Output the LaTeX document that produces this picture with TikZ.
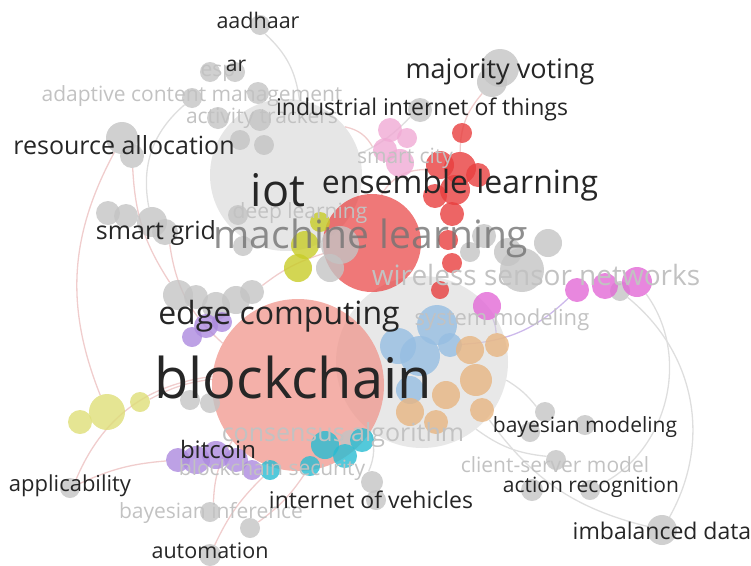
\documentclass[tikz,border=0pt]{standalone}
\usepackage{fontspec}
\setmainfont{Open Sans}
\usetikzlibrary{backgrounds}

\definecolor{gball}{RGB}{196,196,196}
\definecolor{gbig}{RGB}{214,214,214}
\definecolor{salmon}{RGB}{240,150,140}
\definecolor{redb}{RGB}{232,62,62}
\definecolor{pinkb}{RGB}{240,170,212}
\definecolor{magb}{RGB}{226,105,214}
\definecolor{yelb}{RGB}{200,204,40}
\definecolor{yell}{RGB}{222,222,120}
\definecolor{cyanb}{RGB}{40,188,210}
\definecolor{purb}{RGB}{172,138,222}
\definecolor{blueb}{RGB}{150,190,226}
\definecolor{tanb}{RGB}{232,182,130}
\definecolor{linkp}{RGB}{240,205,205}
\definecolor{linkg}{RGB}{222,222,222}

\newcommand{\fs}[1]{\fontsize{#1}{#1}\selectfont}

\tikzset{
  bub/.style={circle, inner sep=0pt, fill=#1, fill opacity=0.8, draw=none},
  lab/.style={text=black!85, inner sep=0pt},
  faint/.style={text=black!24, inner sep=0pt},
  link/.style={draw=linkp, line width=1.3pt},
  glink/.style={draw=linkg, line width=1.3pt}
}

\begin{document}
\begin{tikzpicture}[x=1pt, y=-1pt]
  \useasboundingbox (0,0) rectangle (751,565);

  % large circles
  \node[bub=gbig, minimum size=152, fill opacity=0.6] (iot) at (286,175) {};
  \node[bub=gbig, minimum size=172, fill opacity=0.55] (grey) at (422,362) {};
  \node[bub=salmon, minimum size=172, fill opacity=0.75] (chain) at (298,385) {};
  \node[bub=redb, minimum size=98, fill opacity=0.7] (ml) at (372,243) {};

  % grey balls
  \foreach \x/\y/\r/\n in {
      260/25/10/aad, 235/72/10/ar, 210/72/10/esp, 192/98/10/acm, 258/93/11/g1,
      218/118/11/g2, 260/120/11/act, 240/140/10/g3, 264/145/10/g4,
      122/138/16/res, 132/156/12/res2, 500/68/19/maj, 492/82/15/maj2,
      420/110/12/ind, 108/213/12/sg1, 126/216/12/sg2, 152/222/15/sg,
      165/232/13/sg3, 238/215/10/sg4, 243/246/10/sg5,
      178/295/15/ec1, 196/297/12/ec2, 216/306/14/ec3, 236/300/14/ec4,
      252/292/12/ec5, 340/245/19/g5, 330/268/14/g6, 484/236/12/g7,
      470/252/10/g8, 508/252/14/g9, 522/270/22/wsn, 548/243/14/g10,
      620/291/10/g11, 190/400/10/g12, 210/403/10/g13, 372/482/11/iov,
      376/500/10/iov2, 350/440/10/g14, 545/412/10/bm, 530/432/10/bm2,
      585/425/10/bm3, 556/460/10/cs, 532/490/11/ar2, 590/490/10/arc,
      662/530/15/imb, 70/488/10/app, 210/512/10/bi, 250/528/10/bi2,
      210/555/11/aut}
    \node[bub=gball, minimum size=2*\r] (\n) at (\x,\y) {};

  % coloured clusters
  \foreach \x/\y/\r/\c/\n in {
      390/130/12/pinkb/p1, 385/150/12/pinkb/p2, 400/163/14/pinkb/p3, 407/138/10/pinkb/p4,
      462/133/10/redb/r1, 440/165/14/redb/r2, 460/168/16/redb/r3, 478/175/12/redb/el,
      455/190/15/redb/r4, 435/196/12/redb/r5, 452/214/12/redb/r6, 448/240/10/redb/r7,
      452/263/10/redb/r8, 440/290/9/redb/r9,
      305/245/14/yelb/y1, 298/268/14/yelb/y2, 320/222/10/yelb/y3,
      487/306/14/magb/m1, 577/290/12/magb/m2, 605/286/13/magb/m3, 637/282/15/magb/m4,
      437/325/20/blueb/b1, 420/356/20/blueb/b2, 398/346/18/blueb/b3, 450/345/12/blueb/b4,
      410/390/14/blueb/b5,
      470/350/14/tanb/t1, 497/345/12/tanb/t2, 476/380/16/tanb/t3, 446/395/14/tanb/t4,
      410/412/14/tanb/t5, 436/422/12/tanb/t6, 482/410/12/tanb/t7,
      325/445/14/cyanb/c1, 345/456/12/cyanb/c2, 362/440/12/cyanb/c3, 310/466/10/cyanb/c4,
      270/470/10/cyanb/c5,
      192/337/10/purb/u1, 206/326/12/purb/u2, 222/322/10/purb/u3, 178/460/12/purb/bit,
      196/460/14/purb/u4, 216/455/14/purb/u5, 236/460/12/purb/u6, 252/470/10/purb/u7,
      80/422/12/yell/l1, 107/412/18/yell/l2, 140/402/10/yell/l3}
    \node[bub=\c, minimum size=2*\r] (\n) at (\x,\y) {};

  % links
  \begin{pgfonlayer}{background}
    \draw[glink] (aad) to[bend left=20] (iot);
    \draw[glink] (acm) to[bend right=30] (sg);
    \draw[link] (res) to[bend right=25] (l2);
    \draw[link] (res2) to[bend right=15] (ec1);
    \draw[link] (sg3) to[bend right=20] (chain);
    \draw[link] (app) to[bend left=30] (chain);
    \draw[link] (app) to[bend left=10] (bit);
    \draw[link] (l3) to[bend left=10] (chain);
    \draw[link] (bi) to[bend left=15] (chain);
    \draw[link] (aut) to[bend left=10] (c5);
    \draw[link] (bi2) to[bend right=10] (c4);
    \draw[link] (p2) to[bend right=25] (iot);
    \draw[link] (r2) to[bend right=30] (ml);
    \draw[link] (maj2) to[bend right=20] (r3);
    \draw[glink] (m4) to[bend left=50] (arc);
    \draw[glink] (g11) to[bend left=40] (imb);
    \draw[glink] (t7) to[bend right=20] (imb);
    \draw[glink] (grey) to[bend right=15] (cs);
    \draw[glink] (grey) to[bend left=10] (bm);
    \draw[draw=purb!60, line width=1.3pt] (m2) to[bend left=20] (b4);
    \draw[draw=purb!60, line width=1.3pt] (m1) to[bend left=10] (t2);
    \draw[glink] (iov) to[bend right=20] (chain);
    \draw[link] (ec5) to[bend left=10] (ml);
    \draw[glink] (ind) to[bend left=10] (iot);
  \end{pgfonlayer}

  % labels
  \node[faint, font=\fs{21}] (tesp) at (218,73) {esp};
  \node[faint, font=\fs{21}] (tacm) at (192,96) {adaptive content management};
  \node[faint, font=\fs{21}] (tact) at (262,118) {activity trackers};
  \node[faint, font=\fs{21}] (tsc) at (405,158) {smart city};
  \node[faint, font=\fs{21}] (tdl) at (300,213) {deep learning};
  \node[faint, font=\fs{28}] (twsn) at (536,275) {wireless sensor networks};
  \node[faint, font=\fs{22}] (tmod) at (502,320) {system modeling};
  \node[faint, font=\fs{25}] (tca) at (343,435) {consensus algorithm};
  \node[faint, font=\fs{21}] (tbs) at (272,470) {blockchain security};
  \node[faint, font=\fs{21}] (tbi) at (211,513) {bayesian inference};
  \node[faint, font=\fs{21}] (tcs) at (555,465) {client-server model};

  \node[lab, font=\fs{21.5}] (taad) at (258,20) {aadhaar};
  \node[lab, font=\fs{21}] (tar) at (236,66) {ar};
  \node[lab, font=\fs{23}] (tind) at (422,109) {industrial internet of things};
  \node[lab, font=\fs{27}] (tmaj) at (500,72) {majority voting};
  \node[lab, font=\fs{25}] (tres) at (124,145) {resource allocation};
  \node[lab, font=\fs{45}] (tiot) at (278,190) {iot};
  \node[lab, font=\fs{32}] (tel) at (460,185) {ensemble learning};
  \node[lab, font=\fs{25}] (tsg) at (156,233) {smart grid};
  \node[inner sep=0pt, text=black!55, text opacity=0.8, font=\fs{39}] (tml) at (371,238) {machine learning};
  \node[lab, font=\fs{32}] (tec) at (279,316) {edge computing};
  \node[lab, font=\fs{56}] (tbc) at (293,377) {blockchain};
  \node[lab, font=\fs{24}] (tbit) at (218,449) {bitcoin};
  \node[lab, font=\fs{22}] (tapp) at (70,486) {applicability};
  \node[lab, font=\fs{23}] (tiov) at (371,500) {internet of vehicles};
  \node[lab, font=\fs{21}] (tbm) at (585,427) {bayesian modeling};
  \node[lab, font=\fs{21}] (tarc) at (591,487) {action recognition};
  \node[lab, font=\fs{23}] (timb) at (662,531) {imbalanced data};
  \node[lab, font=\fs{21.5}] (taut) at (210,551) {automation};
\end{tikzpicture}
\end{document}
